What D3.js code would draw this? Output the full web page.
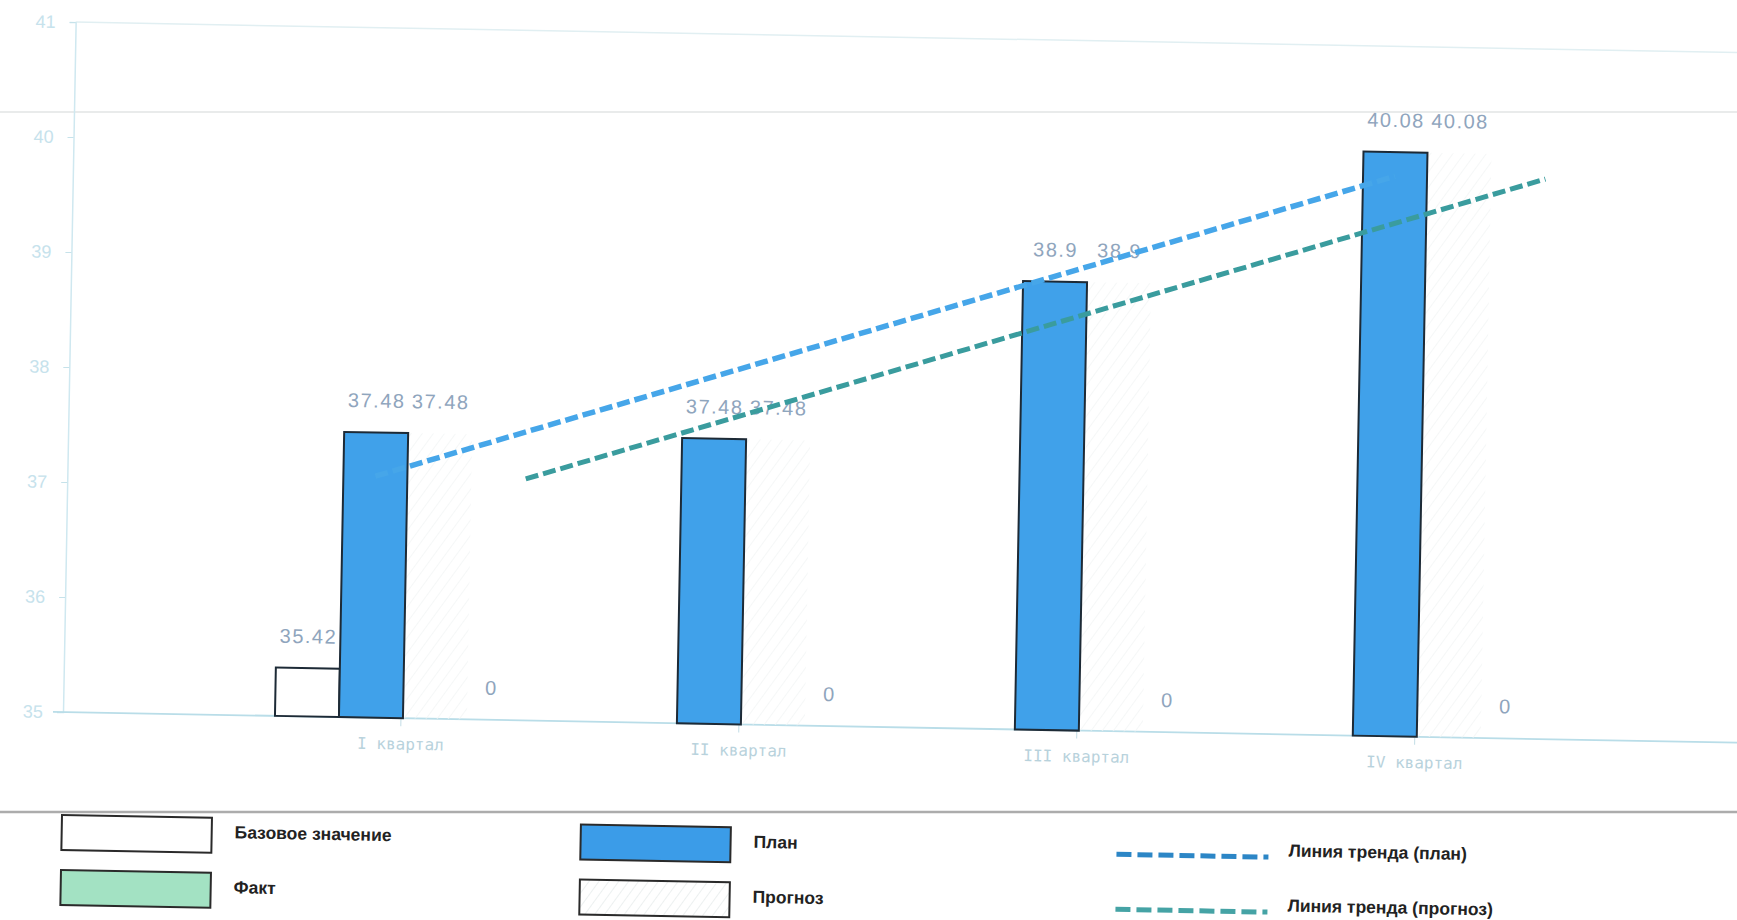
<!DOCTYPE html>
<html>
<head>
<meta charset="utf-8">
<script src="https://cdn.jsdelivr.net/npm/d3@7"></script>
<style>
  body { margin: 0; background: #fff; }
  svg { display: block; }
</style>
</head>
<body>
<div id="chart"></div>
<script>
// chart data
const quarters = ['I квартал', 'II квартал', 'III квартал', 'IV квартал'];
const seriesKeys = ['base', 'plan', 'fact', 'forecast'];
const baseValues = [35.42, null, null, null];
const planValues = [37.48, 37.48, 38.9, 40.08];
const factValues = [37.48, 37.48, 38.9, 40.08];
const forecastValues = [0, 0, 0, 0];
const yTicks = [35, 36, 37, 38, 39, 40, 41];
// trend lines: value at I квартал and at IV квартал
const trendPlan = [37.1, 39.87];
const trendForecast = [37.1, 39.87];

const legendItems = [
  { key: 'base', label: 'Базовое значение', type: 'box', fill: '#ffffff' },
  { key: 'fact', label: 'Факт', type: 'box', fill: '#a3e2c3' },
  { key: 'plan', label: 'План', type: 'box', fill: '#3b9ce8' },
  { key: 'forecast', label: 'Прогноз', type: 'box', fill: 'url(#hatch)' },
  { key: 'trendPlan', label: 'Линия тренда (план)', type: 'line', stroke: '#2c86c6' },
  { key: 'trendForecast', label: 'Линия тренда (прогноз)', type: 'line', stroke: '#45a3a5' }
];

const W = 1737, H = 920;
const tilt = 1.05; // the scanned page is slightly rotated

const svg = d3.select('#chart').append('svg')
  .attr('width', W).attr('height', H);

const defs = svg.append('defs');
const hatch = defs.append('pattern')
  .attr('id', 'hatch').attr('patternUnits', 'userSpaceOnUse')
  .attr('width', 8).attr('height', 8)
  .attr('patternTransform', 'rotate(35)');
hatch.append('rect').attr('width', 8).attr('height', 8).attr('fill', '#fff');
hatch.append('line').attr('x1', 0).attr('y1', 0).attr('x2', 0).attr('y2', 8)
  .attr('stroke', '#e6ecec').attr('stroke-width', 1.5);

const faint = defs.append('pattern')
  .attr('id', 'faint').attr('patternUnits', 'userSpaceOnUse')
  .attr('width', 9).attr('height', 9)
  .attr('patternTransform', 'rotate(35)');
faint.append('line').attr('x1', 0).attr('y1', 0).attr('x2', 0).attr('y2', 9)
  .attr('stroke', '#f2f5f5').attr('stroke-width', 1.5);

// page lines (not tilted)
svg.append('line').attr('x1', 0).attr('x2', W).attr('y1', 112).attr('y2', 112)
  .attr('stroke', '#e2e4e4').attr('stroke-width', 1.5);
svg.append('line').attr('x1', 0).attr('x2', W).attr('y1', 812).attr('y2', 812)
  .attr('stroke', '#acacac').attr('stroke-width', 2.5);

// plot area
const originX = 63, originY = 712;
const g = svg.append('g')
  .attr('transform', `rotate(${tilt}, ${originX}, ${originY})`);

const x0 = d3.scaleBand().domain(quarters).range([232, 1584]).padding(0);
const x1 = d3.scaleBand().domain(seriesKeys).range([43, 299]).padding(0);
const y = d3.scaleLinear().domain([35, 41]).range([originY, 22]);

const valuesByKey = { base: baseValues, plan: planValues, fact: factValues, forecast: forecastValues };

// top frame line at 41
g.append('line')
  .attr('x1', originX).attr('x2', W + 40)
  .attr('y1', y(41)).attr('y2', y(41))
  .attr('stroke', '#e1eff2').attr('stroke-width', 1.5);

// y axis
const yAxis = g.append('g')
  .attr('transform', `translate(${originX},0)`)
  .call(d3.axisLeft(y).tickValues(yTicks).tickSize(6).tickPadding(14).tickFormat(d3.format('d')));
yAxis.select('.domain').attr('stroke', '#cfe8f0').attr('stroke-width', 1.5);
yAxis.selectAll('.tick line').attr('stroke', '#c6e2ea');
yAxis.selectAll('.tick text')
  .attr('fill', '#c6e2ec')
  .style('font-family', '"Liberation Sans", Arial, sans-serif')
  .style('font-size', '18px');

// x axis
const xAxis = g.append('g')
  .attr('transform', `translate(0,${originY})`)
  .call(d3.axisBottom(x0).tickSize(8).tickPadding(12).tickSizeOuter(0));
xAxis.select('.domain').remove();
xAxis.append('line')
  .attr('x1', originX - 10).attr('x2', W + 40)
  .attr('stroke', '#b9dde8').attr('stroke-width', 1.8);
xAxis.selectAll('.tick line').attr('stroke', '#c2dde6');
xAxis.selectAll('.tick text')
  .attr('fill', '#b8d2dc')
  .style('font-family', '"DejaVu Sans Mono", monospace')
  .style('font-size', '16px');

// bars
const rows = quarters.map((q, i) => ({
  q,
  items: seriesKeys.map(k => ({ key: k, value: valuesByKey[k][i] }))
}));

const groups = g.selectAll('.quarter').data(rows).enter().append('g')
  .attr('class', 'quarter')
  .attr('transform', d => `translate(${x0(d.q)},0)`);

// faint hatched fact bars
groups.selectAll('.fact').data(d => d.items.filter(it => it.key === 'fact' && it.value != null))
  .enter().append('rect')
  .attr('x', d => x1(d.key)).attr('width', x1.bandwidth())
  .attr('y', d => y(d.value)).attr('height', d => originY - y(d.value))
  .attr('fill', 'url(#faint)');

groups.selectAll('.bar').data(d => d.items.filter(it => (it.key === 'base' || it.key === 'plan') && it.value != null))
  .enter().append('rect')
  .attr('class', 'bar')
  .attr('x', d => x1(d.key)).attr('width', x1.bandwidth())
  .attr('y', d => y(d.value)).attr('height', d => originY - y(d.value))
  .attr('fill', d => d.key === 'plan' ? '#40a1ea' : '#ffffff')
  .attr('stroke', '#1d2a36').attr('stroke-width', 2);

// value labels
groups.selectAll('.vlabel').data(d => d.items.filter(it => it.value != null))
  .enter().append('text')
  .attr('class', 'vlabel')
  .attr('x', d => x1(d.key) + x1.bandwidth() / 2 + (d.key === 'forecast' ? -8 : 0))
  .attr('y', d => y(Math.max(d.value, 35)) - 25)
  .attr('text-anchor', 'middle')
  .attr('fill', '#8fa5bd')
  .style('font-family', '"Liberation Sans", Arial, sans-serif')
  .style('font-size', '20px')
  .style('letter-spacing', '1.5px')
  .text(d => d.value);

// trend lines
const first = quarters[0], last = quarters[quarters.length - 1];
const planX = q => x0(q) + x1('plan') + x1.bandwidth() / 2;
const forecastX = q => x0(q) + x1('forecast') + x1.bandwidth() * 0.85;
const trendLine = d3.line().x(d => d[0]).y(d => y(d[1]));

g.append('path')
  .datum([[planX(first), trendPlan[0]], [planX(last), trendPlan[1]]])
  .attr('d', trendLine)
  .attr('fill', 'none').attr('stroke', '#46a6e9').attr('stroke-width', 5.5)
  .attr('stroke-dasharray', '13 5');

g.append('path')
  .datum([[forecastX(first), trendForecast[0]], [forecastX(last), trendForecast[1]]])
  .attr('d', trendLine)
  .attr('fill', 'none').attr('stroke', '#3a9c9e').attr('stroke-width', 5)
  .attr('stroke-dasharray', '13 5');

// legend
const legend = svg.append('g')
  .attr('transform', `rotate(${tilt}, 62, 815)`);
const legendPos = {
  base: [62, 815], fact: [62, 870], plan: [581, 815], forecast: [581, 870],
  trendPlan: [1117, 835], trendForecast: [1117, 890]
};
const li = legend.selectAll('.li').data(legendItems).enter().append('g')
  .attr('class', 'li')
  .attr('transform', d => `translate(${legendPos[d.key][0]},${legendPos[d.key][1]})`);

li.filter(d => d.type === 'box').append('rect')
  .attr('width', 150).attr('height', 35)
  .attr('fill', d => d.fill)
  .attr('stroke', '#2a2a2a').attr('stroke-width', 2);

li.filter(d => d.type === 'line').append('line')
  .attr('x1', 0).attr('x2', 152).attr('y1', 0).attr('y2', 0)
  .attr('stroke', d => d.stroke).attr('stroke-width', 5)
  .attr('stroke-dasharray', '15 6');

li.append('text')
  .attr('x', d => d.type === 'box' ? 173 : 172)
  .attr('y', d => d.type === 'box' ? 14 : -7)
  .attr('dy', '0.35em')
  .attr('fill', '#222')
  .style('font-family', '"Liberation Sans", Arial, sans-serif')
  .style('font-size', '17.5px')
  .style('font-weight', 'bold')
  .text(d => d.label);
</script>
</body>
</html>
